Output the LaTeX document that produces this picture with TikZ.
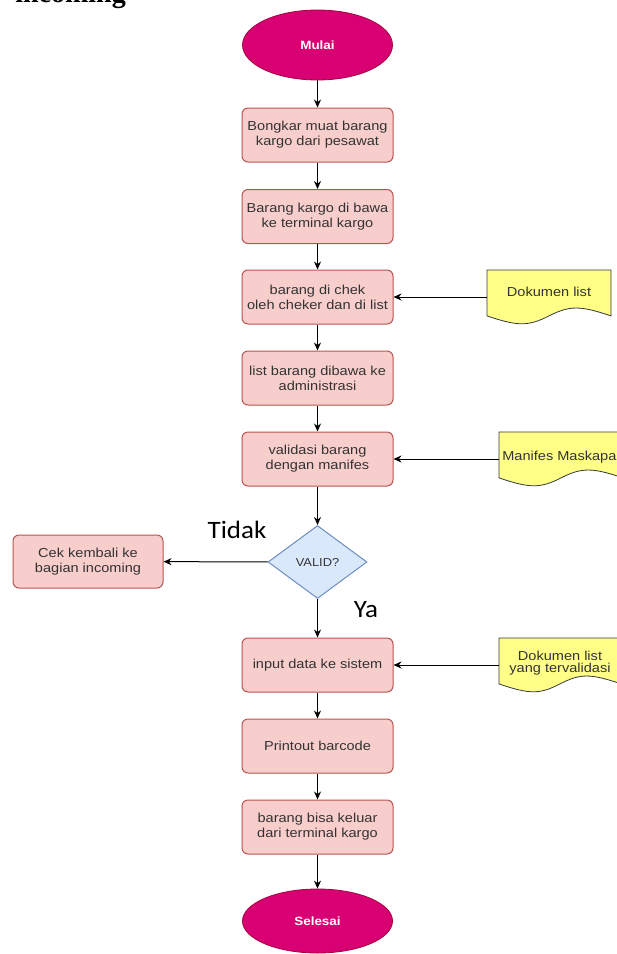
\documentclass[tikz,border=0pt]{standalone}
\usepackage{fontspec}
\setmainfont{Liberation Sans}[FakeStretch=1.12]
\newfontfamily\calibri{Carlito}[FakeStretch=1.08]
\newfontfamily\tnr{Liberation Serif}
\usetikzlibrary{shapes.geometric,arrows.meta}
\definecolor{boxfill}{HTML}{F8CECC}
\definecolor{boxline}{HTML}{B85450}
\definecolor{ellfill}{HTML}{D80073}
\definecolor{ellline}{HTML}{A50040}
\definecolor{dfill}{HTML}{DAE8FC}
\definecolor{dline}{HTML}{6C8EBF}
\definecolor{docfill}{HTML}{FFFF88}
\definecolor{docline}{HTML}{36393D}
\definecolor{txt}{HTML}{333333}
\begin{document}
\begin{tikzpicture}[x=1pt,y=-1pt,
  procbox/.style={rectangle,rounded corners=6pt,draw=boxline,fill=boxfill,line width=1pt,
    minimum width=151pt,minimum height=54pt,align=center,text=txt,inner sep=2pt,
    font=\fontsize{13}{15}\selectfont},
  term/.style={ellipse,draw=ellline,fill=ellfill,line width=0.8pt,minimum width=150pt,
    text=white,font=\fontsize{12}{14}\selectfont\bfseries},
  decision/.style={diamond,draw=dline,fill=dfill,line width=1pt,minimum width=99pt,
    minimum height=73pt,inner sep=0pt,text=txt,font=\fontsize{11.5}{13}\selectfont},
  docshape/.style={draw=docline,fill=docfill,line width=0.8pt},
  doctext/.style={draw=none,align=center,text=txt,font=\fontsize{13}{15}\selectfont},
  conn/.style={line width=1pt,-{Stealth[length=8pt,width=7pt]}},
  lbl/.style={font=\calibri\fontsize{25}{28}\selectfont}]
\useasboundingbox (0,0) rectangle (617,954);
\clip (0,0) rectangle (617,954);

% cropped heading
\node[anchor=base east,inner sep=0pt,font=\tnr\bfseries\fontsize{28}{32}\selectfont] (head) at (126,2) {incoming};

% terminals
\node[term,minimum height=70pt] (start) at (317.5,45) {Mulai};
\node[term,minimum height=64pt] (stop) at (317.5,921) {Selesai};

% process boxes
\node[procbox] (b1) at (317.5,135) {Bongkar muat barang\\kargo dari pesawat};
\node[procbox] (b2) at (317.5,216.5) {Barang kargo di bawa\\ke terminal kargo};
\node[procbox] (b3) at (317.5,297) {barang di chek\\oleh cheker dan di list};
\node[procbox] (b4) at (317.5,378) {list barang dibawa ke\\administrasi};
\node[procbox] (b5) at (317.5,459) {validasi barang\\dengan manifes};
\node[decision] (dec) at (317.5,562) {VALID?};
\node[procbox,minimum width=150pt,minimum height=53pt] (cek) at (88,561.5) {Cek kembali ke\\bagian incoming};
\node[procbox] (b6) at (317.5,665) {input data ke sistem};
\node[procbox] (b7) at (317.5,746) {Printout barcode};
\node[procbox] (b8) at (317.5,827) {barang bisa keluar\\dari terminal kargo};

% documents (wavy bottom)
\path[docshape] (487,270) -- (611,270) -- (611,315.9)
  .. controls (580,305.4) and (569.8,305.4) .. (549,315.9)
  .. controls (528.3,326.4) and (518,326.4) .. (487,315.9) -- cycle;
\node[doctext,minimum width=124pt,minimum height=54pt] (d1) at (549,297) {\raisebox{10pt}{Dokumen list}};
\path[docshape] (499,432) -- (623,432) -- (623,477.9)
  .. controls (592,467.4) and (581.8,467.4) .. (561,477.9)
  .. controls (540.3,488.4) and (530,488.4) .. (499,477.9) -- cycle;
\node[doctext,minimum width=124pt,minimum height=54pt] (d2) at (561,459) {\raisebox{6pt}{Manifes Maskapai}};
\path[docshape] (499,638) -- (621,638) -- (621,683.9)
  .. controls (590.5,673.4) and (580.3,673.4) .. (560,683.9)
  .. controls (539.7,694.4) and (529.5,694.4) .. (499,683.9) -- cycle;
\node[doctext,minimum width=122pt,minimum height=54pt] (d3) at (560,665) {\raisebox{6pt}{\shortstack{Dokumen list\\yang tervalidasi}}};

% connectors
\draw[conn] (start) -- (b1);
\draw[conn] (b1) -- (b2);
\draw[conn] (b2) -- (b3);
\draw[conn] (b3) -- (b4);
\draw[conn] (b4) -- (b5);
\draw[conn] (b5) -- (dec);
\draw[conn] (dec) -- (cek);
\draw[conn] (dec) -- (b6);
\draw[conn] (b6) -- (b7);
\draw[conn] (b7) -- (b8);
\draw[conn] (b8) -- (stop);
\draw[conn] (d1.west) -- (b3.east);
\draw[conn] (d2.west) -- (b5.east);
\draw[conn] (d3.west) -- (b6.east);

% labels
\node[lbl] (tidak) at (237,530) {Tidak};
\node[lbl] (ya) at (366,610) {Ya};
\end{tikzpicture}
\end{document}
